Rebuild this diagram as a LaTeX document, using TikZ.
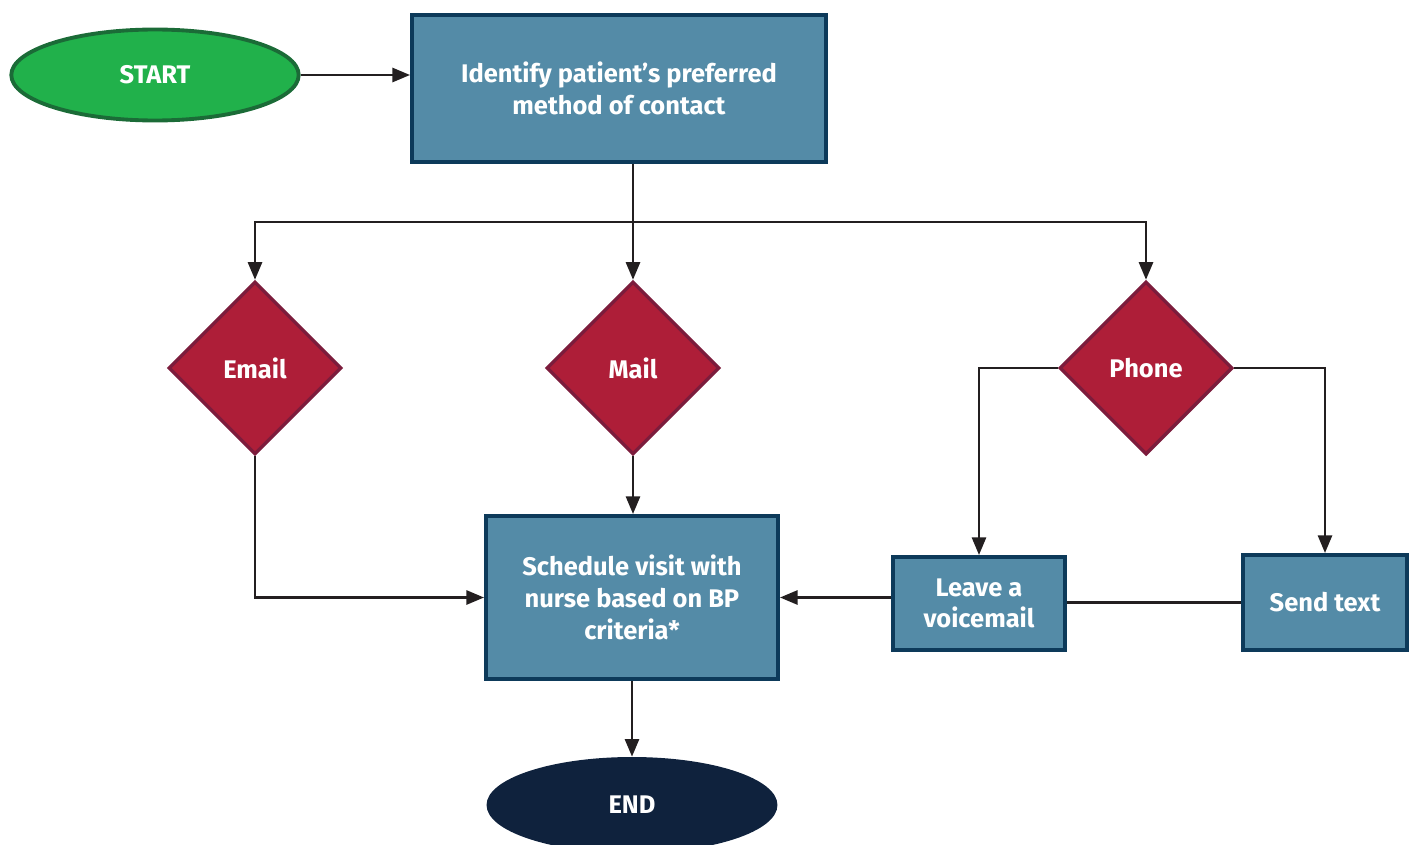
\documentclass[tikz,border=0pt]{standalone}
\usepackage{fontspec}
\setmainfont{Fira Sans}
\usetikzlibrary{shapes.geometric,arrows.meta}
\definecolor{startfill}{HTML}{21B14B}
\definecolor{startline}{HTML}{1B6B37}
\definecolor{boxfill}{HTML}{548BA7}
\definecolor{boxline}{HTML}{0D3A5A}
\definecolor{choicefill}{HTML}{AE1E38}
\definecolor{choiceline}{HTML}{7C1C3C}
\definecolor{endfill}{HTML}{0F223D}
\definecolor{linkcol}{HTML}{231F20}
\begin{document}
\begin{tikzpicture}[x=0.02cm,y=-0.02cm,
        every node/.style={text=white,font=\bfseries\fontsize{14.5}{18}\selectfont,align=center},
        terminal/.style={ellipse,minimum width=5.75cm,minimum height=1.82cm,inner sep=0pt},
        stepbox/.style={rectangle,draw=boxline,fill=boxfill,line width=2.3pt,inner sep=0pt},
        choice/.style={diamond,draw=choiceline,fill=choicefill,line width=2pt,minimum width=3.46cm,minimum height=3.46cm,inner sep=0pt},
        plain/.style={line width=1.4pt,draw=linkcol},
        link/.style={plain,-{Triangle[length=10pt,width=8pt]}}]
        \useasboundingbox (0,0) rectangle (1411,845);
        \node[terminal,draw=startline,fill=startfill,line width=2.2pt] (start) at (155,75) {START};
        \node[stepbox,minimum width=8.28cm,minimum height=2.94cm] (identify) at (619,88.5) {Identify patient’s preferred\\method of contact};
        \node[choice] (email) at (255,368) {Email};
        \node[choice] (mail) at (633,368) {Mail};
        \node[choice] (phone) at (1146,368) {Phone};
        \node[stepbox,minimum width=5.84cm,minimum height=3.26cm] (schedule) at (632,597.5) {Schedule visit with\\nurse based on BP\\criteria*};
        \node[stepbox,minimum width=3.44cm,minimum height=1.86cm] (voicemail) at (979,603.5) {Leave a\\voicemail};
        \node[stepbox,minimum width=3.28cm,minimum height=1.9cm] (sendtext) at (1325,602.5) {Send text};
        \node[terminal,fill=endfill,minimum width=5.82cm,minimum height=1.92cm] (finish) at (632,805) {END};
        \coordinate (split) at (633,222);
        \draw[link] (start.east) -- (start.east -| identify.west);
        \draw[link] (identify.south -| mail.north) -- (mail.north);
        \draw[link] (split) -| (email.north);
        \draw[link] (split) -| (phone.north);
        \draw[link] (email.south) |- (schedule.west);
        \draw[link] (mail.south) -- (mail.south |- schedule.north);
        \draw[link] (schedule.south) -- (finish.north);
        \draw[link] (phone.west) -| (voicemail.north);
        \draw[link] (phone.east) -| (sendtext.north);
        \draw[plain] (sendtext.west) -- (sendtext.west -| voicemail.east);
        \draw[link] (voicemail.west |- schedule.east) -- (schedule.east);
\end{tikzpicture}
\end{document}
